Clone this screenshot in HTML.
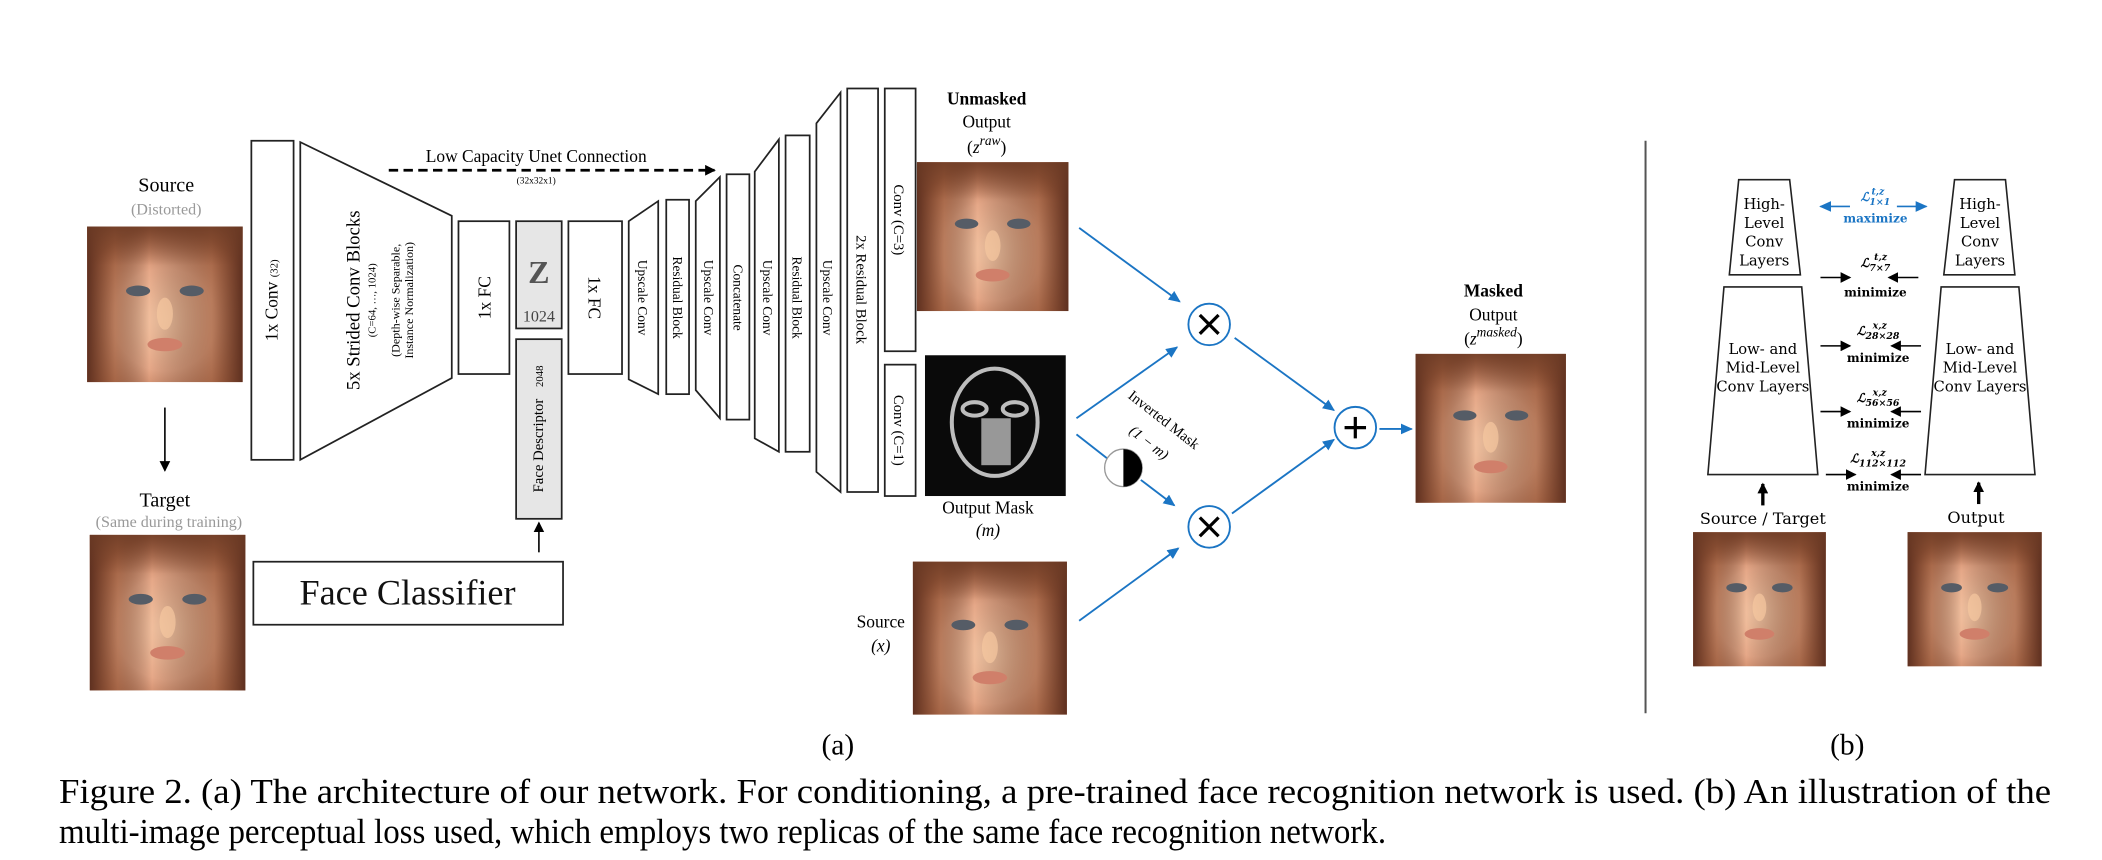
<!DOCTYPE html>
<html><head><meta charset="utf-8"><style>html,body{margin:0;padding:0;background:#fff}svg{display:block}svg text{font-family:"Liberation Serif",serif}.dv{font-family:"DejaVu Serif",serif !important}</style></head>
<body>
<svg width="2102" height="860" viewBox="0 0 1568 641.5" preserveAspectRatio="none" xmlns="http://www.w3.org/2000/svg">
<defs>
<radialGradient id="skin" cx="50%" cy="60%" r="60%">
<stop offset="0" stop-color="#f4c6a4"/><stop offset="0.55" stop-color="#e6a888"/><stop offset="1" stop-color="#b06848"/>
</radialGradient>
<linearGradient id="hair" x1="0" x2="1">
<stop offset="0" stop-color="#5e3020"/><stop offset="0.18" stop-color="#8a4e30" stop-opacity="0.5"/><stop offset="0.4" stop-color="#000" stop-opacity="0"/><stop offset="0.8" stop-color="#8a4e30" stop-opacity="0.5"/><stop offset="1" stop-color="#5e3020"/>
</linearGradient>
<linearGradient id="hairtop" x1="0" y1="0" x2="0" y2="1">
<stop offset="0" stop-color="#6b3a24" stop-opacity="0.8"/><stop offset="0.25" stop-color="#6b3a24" stop-opacity="0"/>
</linearGradient>
<g id="face">
<rect width="116" height="116" fill="url(#skin)"/>
<rect width="116" height="116" fill="url(#hair)"/>
<rect width="116" height="116" fill="url(#hairtop)"/>
<ellipse cx="38" cy="48" rx="9" ry="4" fill="#555c66"/><ellipse cx="78" cy="48" rx="9" ry="4" fill="#555c66"/>
<ellipse cx="58" cy="88" rx="13" ry="5" fill="#d07f6a"/>
<ellipse cx="58" cy="65" rx="6" ry="12" fill="#f7c8a0" opacity="0.7"/>
</g>
<marker id="bk" markerWidth="8" markerHeight="8" refX="7" refY="4" orient="auto" markerUnits="userSpaceOnUse"><path d="M0,0 L8,4 L0,8 z" fill="#000"/></marker>
<marker id="bl" markerWidth="9" markerHeight="8" refX="8" refY="4" orient="auto" markerUnits="userSpaceOnUse"><path d="M0,0 L9,4 L0,8 z" fill="#1b75c4"/></marker>
</defs>

<text x="124" y="143" font-size="15" text-anchor="middle">Source</text>
<text x="124" y="160" font-size="12" text-anchor="middle" fill="#999">(Distorted)</text>
<use href="#face" x="65" y="169"/>
<line x1="123" y1="304" x2="123" y2="351" stroke="#000" stroke-width="1.2" marker-end="url(#bk)"/>
<text x="123" y="378" font-size="15" text-anchor="middle">Target</text>
<text x="126" y="393" font-size="12" text-anchor="middle" fill="#999">(Same during training)</text>
<use href="#face" x="67" y="399"/>

<g fill="none" stroke="#222" stroke-width="1.3">
<rect x="187.5" y="105" width="31.5" height="238" fill="#fff"/>
<polygon points="224,106 337,161 337,282 224,343"/>
<rect x="342" y="165" width="38" height="114"/>
<rect x="385" y="165" width="34" height="80" fill="#e6e6e6"/>
<rect x="385" y="253" width="34" height="134" fill="#e6e6e6"/>
<rect x="189" y="419" width="231" height="47"/>
<rect x="424" y="165" width="40" height="114"/>
<polygon points="469,165 491,150 491,294 469,283"/>
<rect x="497" y="149" width="17" height="145"/>
<polygon points="519,150 537,132 537,312 519,291"/>
<rect x="542" y="130" width="17" height="183"/>
<polygon points="563,128 581,104 581,337 563,327"/>
<rect x="586" y="101" width="18" height="236"/>
<polygon points="609,92 627,69 627,367 609,352"/>
<rect x="632" y="66" width="23" height="301"/>
<rect x="660" y="66" width="23" height="196"/>
<rect x="660" y="272" width="23" height="98"/>
</g>
<line x1="402" y1="412" x2="402" y2="390" stroke="#000" stroke-width="1.2" marker-end="url(#bk)"/>
<line x1="290" y1="127" x2="533" y2="127" stroke="#000" stroke-width="2" stroke-dasharray="7,4" marker-end="url(#bk)"/>
<text x="400" y="121" font-size="13" text-anchor="middle">Low Capacity Unet Connection</text>
<text x="400" y="137" font-size="7" text-anchor="middle">(32x32x1)</text>

<g font-size="13" text-anchor="middle">
<text transform="translate(207,224) rotate(-90)">1x Conv <tspan font-size="8">(32)</tspan></text>
<text transform="translate(268,224) rotate(-90)" font-size="14">5x Strided Conv Blocks</text>
<text transform="translate(280,224) rotate(-90)" font-size="8">(C=64, …, 1024)</text>
<text transform="translate(298,224) rotate(-90)" font-size="9">(Depth-wise Separable,</text>
<text transform="translate(308,224) rotate(-90)" font-size="9">Instance Normalization)</text>
<text transform="translate(366,222) rotate(-90)">1x FC</text>
<text x="402" y="211" font-size="24" font-weight="bold" fill="#555">Z</text>
<text x="402" y="240" font-size="12" fill="#444">1024</text>
<text transform="translate(405,320) rotate(-90)" font-size="11">Face Descriptor <tspan dx="6" font-size="8">2048</tspan></text>
<text x="304" y="451" font-size="27" fill="#111">Face Classifier</text>
<text transform="translate(439,222) rotate(90)">1x FC</text>
<text transform="translate(476,222) rotate(90)" font-size="10">Upscale Conv</text>
<text transform="translate(502,222) rotate(90)" font-size="10">Residual Block</text>
<text transform="translate(525,222) rotate(90)" font-size="10">Upscale Conv</text>
<text transform="translate(547,222) rotate(90)" font-size="10">Concatenate</text>
<text transform="translate(569,222) rotate(90)" font-size="10">Upscale Conv</text>
<text transform="translate(591,222) rotate(90)" font-size="10">Residual Block</text>
<text transform="translate(614,222) rotate(90)" font-size="10">Upscale Conv</text>
<text transform="translate(639,216) rotate(90)" font-size="11">2x Residual Block</text>
<text transform="translate(667,164) rotate(90)" font-size="11">Conv (C=3)</text>
<text transform="translate(667,321) rotate(90)" font-size="11">Conv (C=1)</text>
</g>

<g text-anchor="middle" font-size="13">
<text x="736" y="78" font-weight="bold">Unmasked</text>
<text x="736" y="95">Output</text>
<text x="736" y="114">(<tspan font-style="italic">z</tspan><tspan font-size="10" dy="-6" font-style="italic">raw</tspan><tspan dy="6">)</tspan></text>
<text x="737" y="383">Output Mask</text>
<text x="737" y="400" font-style="italic">(m)</text>
<text x="657" y="468">Source</text>
<text x="657" y="486" font-style="italic">(x)</text>
<text x="1114" y="221" font-weight="bold">Masked</text>
<text x="1114" y="239">Output</text>
<text x="1114" y="257">(<tspan font-style="italic">z</tspan><tspan font-size="10" dy="-6" font-style="italic">masked</tspan><tspan dy="6">)</tspan></text>
</g>
<use href="#face" transform="translate(684,121) scale(0.974,0.957)"/>
<rect x="690" y="265" width="105" height="105" fill="#0a0a0a"/>
<g fill="none" stroke="#ddd" stroke-width="3" opacity="0.85">
<ellipse cx="742" cy="315" rx="32" ry="40"/>
<ellipse cx="727" cy="305" rx="9" ry="5"/><ellipse cx="757" cy="305" rx="9" ry="5"/>
</g>
<rect x="732" y="312" width="22" height="35" fill="#bbb" opacity="0.8"/>
<use href="#face" transform="translate(681,419) scale(0.99,0.983)"/>
<use href="#face" transform="translate(1056,264) scale(0.966,0.957)"/>

<g stroke="#1b75c4" stroke-width="1.4" fill="none">
<line x1="805" y1="170" x2="880" y2="225" marker-end="url(#bl)"/>
<line x1="803" y1="312" x2="878" y2="259" marker-end="url(#bl)"/>
<line x1="803" y1="324" x2="826" y2="342"/>
<line x1="851" y1="358" x2="876" y2="377" marker-end="url(#bl)"/>
<line x1="805" y1="463" x2="879" y2="409" marker-end="url(#bl)"/>
<line x1="921" y1="252" x2="995" y2="306" marker-end="url(#bl)"/>
<line x1="919" y1="383" x2="995" y2="328" marker-end="url(#bl)"/>
<line x1="1029" y1="320" x2="1053" y2="320" marker-end="url(#bl)"/>
<circle cx="902" cy="242" r="15.5" fill="#fff"/>
<circle cx="902" cy="393" r="15.5" fill="#fff"/>
<circle cx="1011" cy="319" r="15.5" fill="#fff"/>
</g>
<g stroke="#000" stroke-width="2.4">
<line x1="895" y1="235" x2="909" y2="249"/><line x1="909" y1="235" x2="895" y2="249"/>
<line x1="895" y1="386" x2="909" y2="400"/><line x1="909" y1="386" x2="895" y2="400"/>
<line x1="1003" y1="319" x2="1019" y2="319"/><line x1="1011" y1="311" x2="1011" y2="327"/>
</g>
<circle cx="838" cy="349" r="14" fill="#fff" stroke="#999" stroke-width="1"/>
<path d="M838,335 A14,14 0 0 1 838,363 Z" fill="#000"/>
<text transform="translate(866,316) rotate(38)" font-size="11" text-anchor="middle">Inverted Mask</text>
<text transform="translate(855,333) rotate(38)" font-size="11" text-anchor="middle" font-style="italic">(1 − m)</text>

<line x1="1227.5" y1="105" x2="1227.5" y2="532" stroke="#555" stroke-width="1.5"/>

<g fill="none" stroke="#222" stroke-width="1.2">
<polygon points="1297,134 1335,134 1343,205 1290,205"/>
<polygon points="1286,214 1344,214 1356,354 1274,354"/>
<polygon points="1458,134 1496,134 1503,205 1450,205"/>
<polygon points="1448,214 1506,214 1518,354 1436,354"/>
</g>
<g font-size="11" text-anchor="middle">
<text class="dv" x="1316" y="156">High-</text><text class="dv" x="1316" y="170">Level</text><text class="dv" x="1316" y="184">Conv</text><text class="dv" x="1316" y="198">Layers</text>
<text class="dv" x="1477" y="156">High-</text><text class="dv" x="1477" y="170">Level</text><text class="dv" x="1477" y="184">Conv</text><text class="dv" x="1477" y="198">Layers</text>
<text class="dv" x="1315" y="264">Low- and</text><text class="dv" x="1315" y="278">Mid-Level</text><text class="dv" x="1315" y="292">Conv Layers</text>
<text class="dv" x="1477" y="264">Low- and</text><text class="dv" x="1477" y="278">Mid-Level</text><text class="dv" x="1477" y="292">Conv Layers</text>
<text class="dv" x="1315" y="391" font-size="12">Source / Target</text>
<text class="dv" x="1474" y="390" font-size="12">Output</text>
<g font-size="9" font-weight="bold">
<text class="dv" x="1399" y="150" fill="#1b75c4" font-style="italic">ℒ<tspan font-size="7" dy="3">1×1</tspan><tspan font-size="7" dx="-14" dy="-8">t,z</tspan></text>
<text class="dv" x="1399" y="166" fill="#1b75c4">maximize</text>
<text class="dv" x="1399" y="199" font-style="italic">ℒ<tspan font-size="7" dy="3">7×7</tspan><tspan font-size="7" dx="-12" dy="-8">t,z</tspan></text>
<text class="dv" x="1399" y="221">minimize</text>
<text class="dv" x="1401" y="250" font-style="italic">ℒ<tspan font-size="7" dy="3">28×28</tspan><tspan font-size="7" dx="-20" dy="-8">x,z</tspan></text>
<text class="dv" x="1401" y="270">minimize</text>
<text class="dv" x="1401" y="300" font-style="italic">ℒ<tspan font-size="7" dy="3">56×56</tspan><tspan font-size="7" dx="-20" dy="-8">x,z</tspan></text>
<text class="dv" x="1401" y="319">minimize</text>
<text class="dv" x="1401" y="345" font-style="italic">ℒ<tspan font-size="7" dy="3">112×112</tspan><tspan font-size="7" dx="-26" dy="-8">x,z</tspan></text>
<text class="dv" x="1401" y="366">minimize</text>
</g>
</g>
<g stroke-width="1.2">
<line x1="1380" y1="154" x2="1358" y2="154" stroke="#1b75c4" marker-end="url(#bl)"/>
<line x1="1415" y1="154" x2="1437" y2="154" stroke="#1b75c4" marker-end="url(#bl)"/>
<g stroke="#000">
<line x1="1358" y1="207" x2="1380" y2="207" marker-end="url(#bk)"/><line x1="1431" y1="207" x2="1409" y2="207" marker-end="url(#bk)"/>
<line x1="1358" y1="258" x2="1380" y2="258" marker-end="url(#bk)"/><line x1="1433" y1="258" x2="1411" y2="258" marker-end="url(#bk)"/>
<line x1="1358" y1="307" x2="1380" y2="307" marker-end="url(#bk)"/><line x1="1433" y1="307" x2="1411" y2="307" marker-end="url(#bk)"/>
<line x1="1362" y1="354" x2="1384" y2="354" marker-end="url(#bk)"/><line x1="1433" y1="354" x2="1411" y2="354" marker-end="url(#bk)"/>
<line x1="1315" y1="377" x2="1315" y2="361" stroke-width="2.5" marker-end="url(#bk)"/>
<line x1="1476" y1="376" x2="1476" y2="360" stroke-width="2.5" marker-end="url(#bk)"/>
</g>
</g>
<use href="#face" transform="translate(1263,397) scale(0.853,0.862)"/>
<use href="#face" transform="translate(1423,397) scale(0.862,0.862)"/>

<text x="625" y="563" font-size="22" text-anchor="middle">(a)</text>
<text x="1378" y="563" font-size="22" text-anchor="middle">(b)</text>
<text x="44" y="599" font-size="26" textLength="1486" lengthAdjust="spacingAndGlyphs">Figure 2. (a) The architecture of our network. For conditioning, a pre-trained face recognition network is used. (b) An illustration of the</text>
<text x="44" y="629" font-size="26" textLength="990" lengthAdjust="spacingAndGlyphs">multi-image perceptual loss used, which employs two replicas of the same face recognition network.</text>
</svg>
</body></html>
